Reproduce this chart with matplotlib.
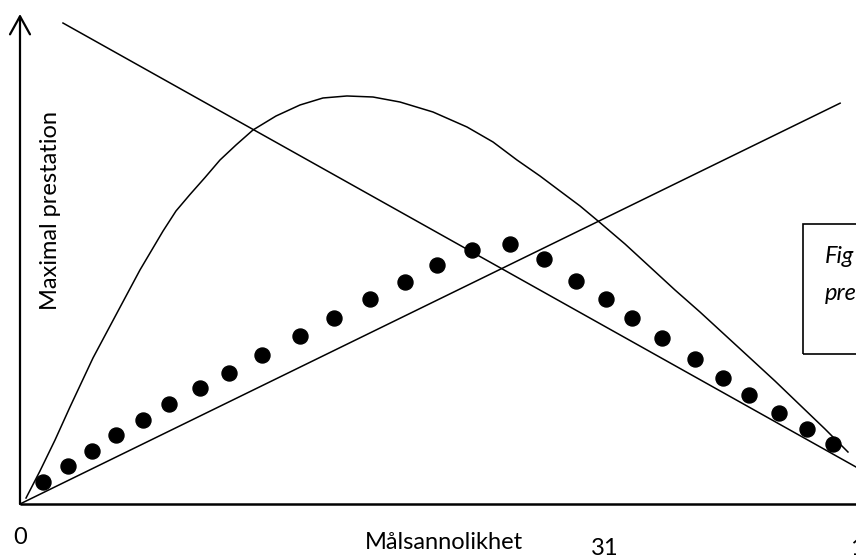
import matplotlib
matplotlib.use("Agg")
import matplotlib.pyplot as plt
from matplotlib.patches import Rectangle

# x = Målsannolikhet (0..1), y = prestation (0..1 relative to axis height)
curve_x = [0.0072, 0.0239, 0.0419, 0.0598, 0.0873, 0.1160, 0.1435, 0.1711,
           0.1866, 0.2033, 0.2213, 0.2392, 0.2584, 0.2787, 0.3062, 0.3349,
           0.3624, 0.3911, 0.4222, 0.4545, 0.4940, 0.5347, 0.5658, 0.5945,
           0.6220, 0.6459, 0.6699, 0.6914, 0.7237, 0.7536, 0.7835, 0.8134,
           0.8433, 0.8732, 0.9031, 0.9330, 0.9629, 0.9904]
curve_y = [0.0122, 0.0674, 0.1306, 0.1980, 0.2980, 0.3898, 0.4776, 0.5571,
           0.5980, 0.6316, 0.6663, 0.7020, 0.7327, 0.7633, 0.7918, 0.8143,
           0.8286, 0.8327, 0.8306, 0.8204, 0.8000, 0.7694, 0.7388, 0.7020,
           0.6694, 0.6388, 0.6082, 0.5776, 0.5306, 0.4837, 0.4367, 0.3918,
           0.3449, 0.2980, 0.2510, 0.2020, 0.1531, 0.1061]

rising_x = [0.0, 0.981]
rising_y = [0.0, 0.818]
falling_x = [0.0514, 1.0]
falling_y = [0.9816, 0.0755]

dots_x = [0.028, 0.058, 0.086, 0.115, 0.147, 0.178, 0.215, 0.250, 0.290,
          0.335, 0.376, 0.419, 0.461, 0.499, 0.541, 0.586, 0.627, 0.665,
          0.701, 0.732, 0.768, 0.807, 0.841, 0.872, 0.908, 0.941, 0.973]
dots_y = [0.044, 0.078, 0.109, 0.141, 0.171, 0.205, 0.236, 0.267, 0.304,
          0.343, 0.380, 0.418, 0.454, 0.487, 0.518, 0.531, 0.499, 0.456,
          0.418, 0.380, 0.338, 0.296, 0.257, 0.222, 0.186, 0.153, 0.122]

x_label = "Målsannolikhet"
y_label = "Maximal prestation"
x_ticks = ["0", "1"]
page_no = "31"
box_lines = ["Fig", "pre"]

plt.rcParams['font.family'] = ['Lato', 'DejaVu Sans']

W, H = 856, 557
fig = plt.figure(figsize=(W / 100, H / 100), dpi=100)
ax = fig.add_axes([20 / W, 53 / H, 836 / W, 490 / H])
ax.set_xlim(0, 1)
ax.set_ylim(0, 1)
ax.axis('off')

# axes: arrow up, plain line to the right
ax.annotate('', xy=(0, 1), xytext=(0, 0),
            arrowprops=dict(arrowstyle='->,head_length=1.3,head_width=0.72',
                            mutation_scale=10, lw=1.6, color='black',
                            shrinkA=0, shrinkB=0),
            annotation_clip=False)
ax.plot([0, 1.01], [0, 0], color='black', lw=1.8, clip_on=False,
        solid_capstyle='butt')

ax.plot(curve_x, curve_y, color='black', lw=1.1, clip_on=False)
ax.plot(rising_x, rising_y, color='black', lw=1.1, clip_on=False)
ax.plot(falling_x, falling_y, color='black', lw=1.1, clip_on=False)
ax.plot(dots_x, dots_y, 'o', color='black', markersize=10.8, clip_on=False)

fs = 17
ax.text(0, -0.0816, x_ticks[0], fontsize=fs, ha='center', va='baseline')
ax.text(0.9928, -0.104, x_ticks[1], fontsize=fs, ha='left', va='baseline')
ax.text(0.507, -0.0912, x_label, fontsize=fs, ha='center', va='baseline')
ax.text(0.6998, -0.104, page_no, fontsize=fs, ha='center', va='baseline')
ax.text(0.0359, 0.598, y_label, fontsize=fs, rotation=90,
        ha='center', va='center')

# text box cut by the right edge
ax.add_patch(Rectangle((0.9366, 0.3061), 0.2, 0.2653, fill=False,
                       edgecolor='black', lw=1.2, clip_on=False))
ax.text(0.9629, 0.4918, box_lines[0], fontsize=fs, style='italic',
        ha='left', va='baseline')
ax.text(0.9629, 0.4163, box_lines[1], fontsize=fs, style='italic',
        ha='left', va='baseline')

fig.savefig('out.png', dpi=100)
